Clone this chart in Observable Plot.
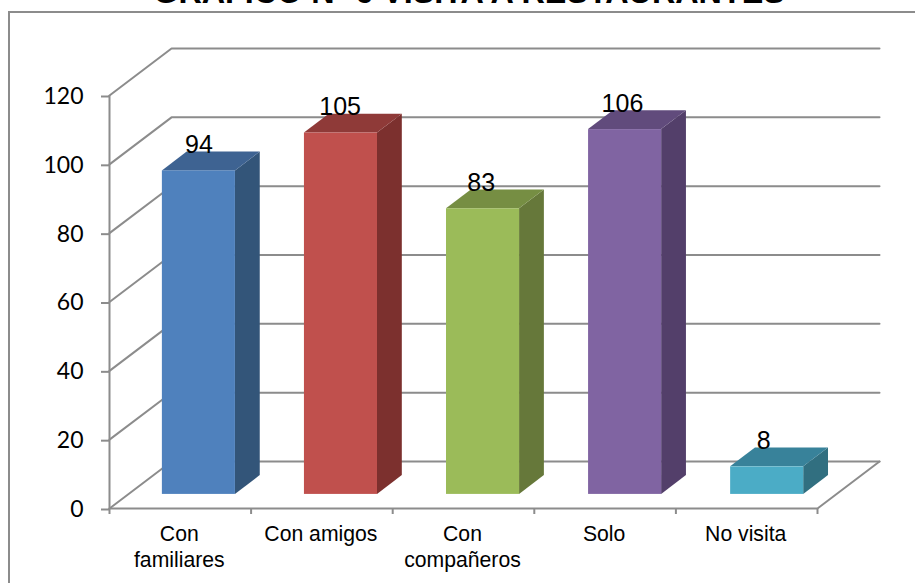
<!DOCTYPE html>
<html lang="es">
<head>
<meta charset="utf-8">
<script src="https://cdn.jsdelivr.net/npm/d3@7"></script>
<script src="https://cdn.jsdelivr.net/npm/@observablehq/plot@0.6"></script>
<style>
  html, body { margin: 0; padding: 0; background: #fff; overflow: hidden; }
  #page { position: relative; width: 915px; height: 583px; overflow: hidden; }
  #border { position: absolute; left: 8px; top: 11px; right: 0; bottom: 0;
            border-left: 2px solid #8c8c8c; border-top: 2px solid #8c8c8c; }
  #title { position: absolute; left: 0; top: -26px; width: 938px; text-align: center;
           font: bold 32.3px "Liberation Sans", Arial, sans-serif; color: #000; white-space: nowrap; }
  #chart { position: absolute; left: 0; top: 0; }
  #chart svg { background: transparent; }
</style>
</head>
<body>
<div id="page">
  <div id="border"></div>
  <div id="title">GRÁFICO Nº 6 VISITA A RESTAURANTES</div>
  <div id="chart"></div>
</div>
<script>
// Survey counts per category
const categories = ["Con\nfamiliares", "Con amigos", "Con\ncompañeros", "Solo", "No visita"];
const values = [94, 105, 83, 106, 8];
const yTicks = [0, 20, 40, 60, 80, 100, 120];

// Face shades for each column: front, side, top
const frontColors = ["#4f81bd", "#c0504d", "#9bbb59", "#8064a2", "#4bacc6"];
const sideColors = ["#335579", "#7c302e", "#66783a", "#533f6a", "#316f80"];
const topColors = ["#3e6392", "#8f3a38", "#768e43", "#614b7c", "#38829a"];

// Oblique projection: depth 0 is the front of the floor, depth 1 the back wall
const skewX = 0.438;
const skewY = 13.65;
const px = (x, depth) => x + depth * skewX;
const py = (v, depth) => v + depth * skewY;

// Column footprint inside each category slot
const halfWidth = 0.258;
const depthFront = 0.3;
const depthBack = 0.7;
const barPitch = 1.0033;
const labelPitch = 0.997;

const lastX = categories.length;
const gridRows = yTicks.flatMap((v) => [
  {v, x: px(0, 0), y: py(v, 0)},
  {v, x: px(0, 1), y: py(v, 1)},
  {v, x: px(lastX, 1), y: py(v, 1)}
]);
const floorRows = [
  {x: px(0, 0), y: py(0, 0)},
  {x: px(lastX, 0), y: py(0, 0)},
  {x: px(lastX, 1), y: py(0, 1)}
];

const bars = values.map((v, i) => {
  const center = 0.5 + i * barPitch;
  return {
    i, v,
    left: center - halfWidth,
    right: center + halfWidth,
    front: frontColors[i], side: sideColors[i], top: topColors[i]
  };
});

// Front face of every column
const frontFaces = bars.map((b) => ({
  x1: px(b.left, depthFront), x2: px(b.right, depthFront),
  y1: py(0, depthFront), y2: py(b.v, depthFront), fill: b.front
}));
// Side face: a parallelogram with vertical edges
const sideFaces = bars.flatMap((b) => [depthFront, depthBack].map((d) => ({
  i: b.i, x: px(b.right, d), y1: py(0, d), y2: py(b.v, d), fill: b.side
})));
// Top face: a parallelogram with horizontal edges
const topFaces = bars.flatMap((b) => [depthFront, depthBack].map((d) => ({
  i: b.i, y: py(b.v, d), x1: px(b.left, d), x2: px(b.right, d), fill: b.top
})));
const labelRows = bars.map((b) => ({
  x: px(0.5 + b.i * labelPitch, depthFront), y: py(b.v, depthFront), text: String(b.v)
}));

const gray = "#8c8c8c";

const chart = Plot.plot({
  width: 915,
  height: 583,
  marginLeft: 109,
  marginRight: 98,
  marginTop: 95,
  marginBottom: 75,
  x: {type: "linear", domain: [0, lastX]},
  y: {domain: [0, 120]},
  style: {overflow: "visible"},
  marks: [
    // Walls and floor
    Plot.line(gridRows, {x: "x", y: "y", z: "v", stroke: gray, strokeWidth: 2}),
    Plot.line(floorRows, {x: "x", y: "y", stroke: gray, strokeWidth: 2}),
    Plot.ruleX([0], {y1: 0, y2: 120, stroke: gray, strokeWidth: 2}),
    // Axes
    Plot.axisY({ticks: yTicks, tickSize: 8, tickPadding: 18, label: null, stroke: gray, strokeWidth: 2,
      fill: "#000", fontSize: 23, fontFamily: "Lato", strokeOpacity: 1, dy: 1}),
    Plot.axisX({ticks: d3.range(lastX + 1), tickSize: 6, tickFormat: () => "", label: null, stroke: gray, strokeWidth: 2}),
    Plot.axisX({ticks: categories.map((_, i) => i + 0.5), tickSize: 0, tickPadding: 14, label: null, dx: -1,
      tickFormat: (t) => categories[Math.floor(t)], fill: "#000", fontSize: 21.2, lineHeight: 1.24,
      fontFamily: "Liberation Sans", textOverflow: null, lineWidth: Infinity}),
    // Columns
    Plot.areaY(sideFaces, {x: "x", y1: "y1", y2: "y2", z: "i", fill: "fill"}),
    Plot.areaX(topFaces, {y: "y", x1: "x1", x2: "x2", z: "i", fill: "fill"}),
    Plot.rect(frontFaces, {x1: "x1", x2: "x2", y1: "y1", y2: "y2", fill: "fill"}),
    // Value labels sit just above the front edge of each column
    Plot.text(labelRows, {x: "x", y: "y", text: "text", dy: -26, fill: "#000", fontSize: 25,
      fontFamily: "Liberation Sans"})
  ]
});
document.getElementById("chart").append(chart);
</script>
</body>
</html>
